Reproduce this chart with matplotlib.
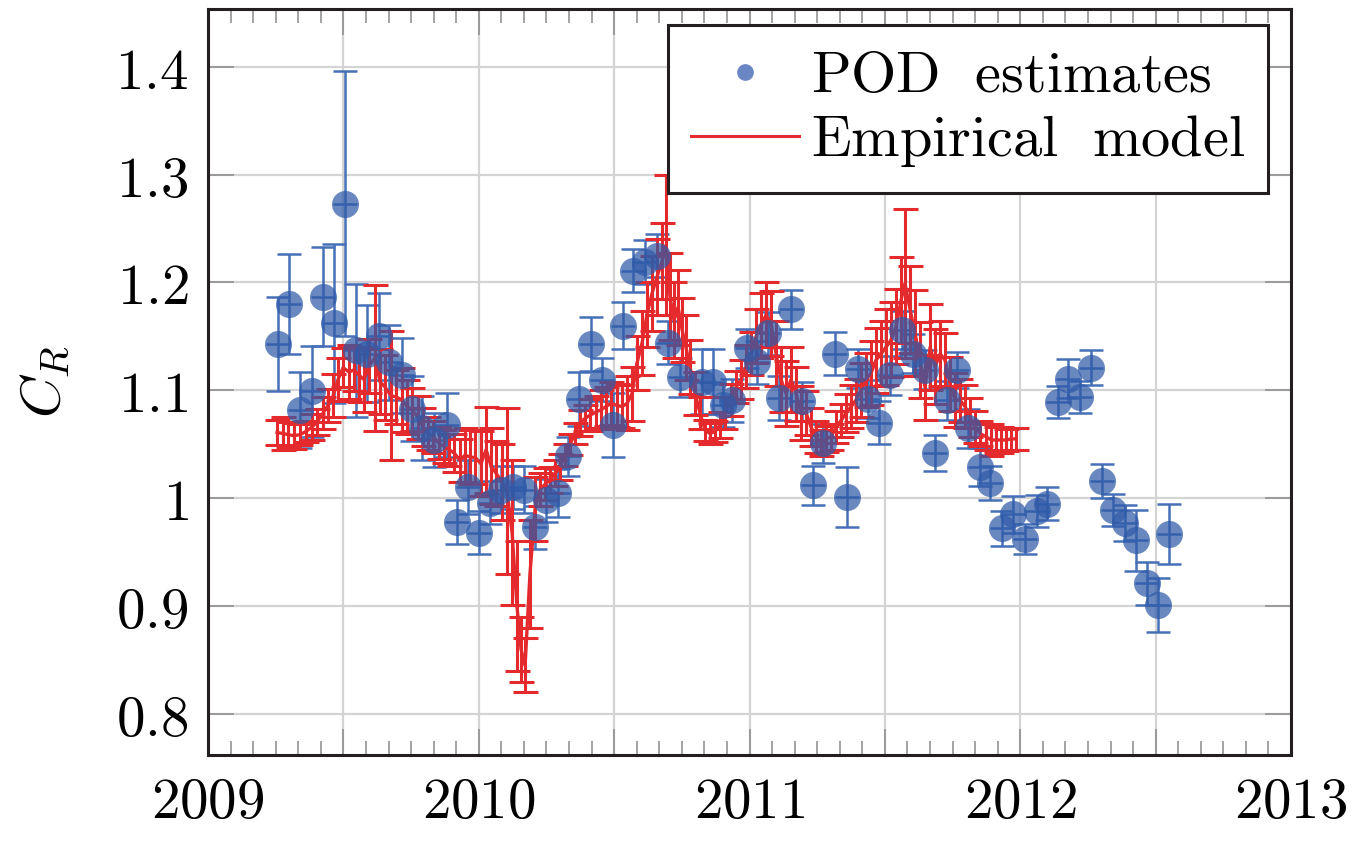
import matplotlib
matplotlib.use("Agg")
import matplotlib.pyplot as plt
from matplotlib.lines import Line2D
from matplotlib.ticker import MultipleLocator, FuncFormatter

# POD estimates (decimal year, C_R, 1-sigma)
pod_t = [2009.259, 2009.299, 2009.340, 2009.384, 2009.425, 2009.465, 2009.506,
         2009.545, 2009.587, 2009.632, 2009.669, 2009.717, 2009.753, 2009.790,
         2009.835, 2009.883, 2009.920, 2009.960, 2010.001, 2010.042, 2010.082,
         2010.126, 2010.167, 2010.208, 2010.248, 2010.293, 2010.330, 2010.370,
         2010.415, 2010.455, 2010.496, 2010.533, 2010.570, 2010.614, 2010.658,
         2010.699, 2010.743, 2010.825, 2010.865, 2010.902, 2010.935, 2010.991,
         2011.028, 2011.068, 2011.109, 2011.153, 2011.194, 2011.235, 2011.271,
         2011.316, 2011.360, 2011.401, 2011.438, 2011.478, 2011.519, 2011.563,
         2011.604, 2011.648, 2011.685, 2011.729, 2011.766, 2011.807, 2011.851,
         2011.888, 2011.933, 2011.973, 2012.018, 2012.062, 2012.099, 2012.139,
         2012.176, 2012.221, 2012.261, 2012.302, 2012.343, 2012.387, 2012.428,
         2012.468, 2012.509, 2012.549]
pod_cr = [1.143, 1.180, 1.082, 1.099, 1.187, 1.162, 1.273,
          1.137, 1.134, 1.150, 1.126, 1.114, 1.083, 1.065,
          1.054, 1.068, 0.978, 1.010, 0.968, 0.996, 1.008,
          1.010, 1.008, 0.973, 0.998, 1.005, 1.039, 1.092,
          1.143, 1.110, 1.068, 1.160, 1.211, 1.219, 1.225,
          1.144, 1.112, 1.108, 1.108, 1.086, 1.091, 1.139,
          1.126, 1.153, 1.093, 1.175, 1.090, 1.012, 1.051,
          1.134, 1.001, 1.120, 1.092, 1.070, 1.114, 1.156,
          1.134, 1.119, 1.042, 1.091, 1.119, 1.065, 1.029,
          1.014, 0.972, 0.985, 0.962, 0.988, 0.995, 1.089,
          1.111, 1.094, 1.121, 1.016, 0.989, 0.977, 0.961,
          0.921, 0.901, 0.967]
pod_err = [0.044, 0.046, 0.035, 0.042, 0.046, 0.074, 0.123,
           0.062, 0.045, 0.040, 0.035, 0.035, 0.030, 0.030,
           0.025, 0.030, 0.020, 0.025, 0.020, 0.020, 0.022,
           0.020, 0.022, 0.020, 0.020, 0.022, 0.018, 0.025,
           0.025, 0.020, 0.030, 0.022, 0.020, 0.020, 0.020,
           0.020, 0.018, 0.030, 0.030, 0.020, 0.020, 0.018,
           0.020, 0.020, 0.020, 0.018, 0.018, 0.018, 0.018,
           0.020, 0.028, 0.018, 0.018, 0.020, 0.018, 0.018,
           0.018, 0.018, 0.017, 0.018, 0.017, 0.018, 0.018,
           0.016, 0.016, 0.017, 0.014, 0.015, 0.015, 0.015,
           0.018, 0.015, 0.016, 0.016, 0.015, 0.017, 0.028,
           0.020, 0.025, 0.028]

# empirical model, weekly
model_t = [2009.255, 2009.277, 2009.295, 2009.318, 2009.340, 2009.362, 2009.384,
           2009.403, 2009.425, 2009.443, 2009.462, 2009.480, 2009.499, 2009.521,
           2009.539, 2009.558, 2009.576, 2009.595, 2009.617, 2009.635, 2009.654,
           2009.676, 2009.694, 2009.717, 2009.735, 2009.753, 2009.776, 2009.794,
           2009.813, 2009.831, 2009.853, 2009.872, 2009.890, 2009.909, 2009.931,
           2009.949, 2009.968, 2009.986, 2010.008, 2010.027, 2010.045, 2010.064,
           2010.086, 2010.104, 2010.123, 2010.141, 2010.156, 2010.171, 2010.189,
           2010.208, 2010.226, 2010.245, 2010.263, 2010.282, 2010.300, 2010.319,
           2010.337, 2010.355, 2010.374, 2010.392, 2010.411, 2010.433, 2010.451,
           2010.470, 2010.488, 2010.511, 2010.529, 2010.548, 2010.566, 2010.584,
           2010.603, 2010.621, 2010.640, 2010.658, 2010.677, 2010.692, 2010.706,
           2010.721, 2010.736, 2010.751, 2010.765, 2010.780, 2010.799, 2010.817,
           2010.836, 2010.854, 2010.873, 2010.891, 2010.910, 2010.932, 2010.950,
           2010.969, 2010.987, 2011.006, 2011.024, 2011.042, 2011.061, 2011.079,
           2011.098, 2011.116, 2011.135, 2011.153, 2011.172, 2011.190, 2011.209,
           2011.227, 2011.246, 2011.264, 2011.283, 2011.301, 2011.319, 2011.338,
           2011.356, 2011.375, 2011.393, 2011.412, 2011.430, 2011.449, 2011.467,
           2011.486, 2011.504, 2011.523, 2011.541, 2011.560, 2011.574, 2011.593,
           2011.611, 2011.630, 2011.648, 2011.667, 2011.685, 2011.704, 2011.722,
           2011.741, 2011.759, 2011.777, 2011.796, 2011.814, 2011.833, 2011.851,
           2011.874, 2011.892, 2011.910, 2011.929, 2011.947, 2011.966, 2011.984]
model_cr = [1.061, 1.060, 1.059, 1.058, 1.059, 1.062, 1.066,
            1.071, 1.079, 1.086, 1.095, 1.110, 1.121, 1.117,
            1.119, 1.114, 1.110, 1.123, 1.130, 1.108, 1.103,
            1.095, 1.094, 1.091, 1.085, 1.082, 1.075, 1.066,
            1.060, 1.057, 1.051, 1.048, 1.045, 1.042, 1.035,
            1.040, 1.038, 1.038, 1.032, 1.045, 1.030, 1.023,
            1.015, 1.007, 0.968, 0.900, 0.860, 0.845, 0.930,
            0.990, 1.008, 1.013, 1.017, 1.023, 1.029, 1.040,
            1.050, 1.060, 1.070, 1.074, 1.077, 1.080, 1.082,
            1.085, 1.088, 1.086, 1.085, 1.088, 1.097, 1.125,
            1.144, 1.170, 1.190, 1.205, 1.220, 1.235, 1.187,
            1.165, 1.177, 1.156, 1.140, 1.122, 1.097, 1.079,
            1.063, 1.060, 1.062, 1.068, 1.079, 1.091, 1.103,
            1.110, 1.122, 1.134, 1.150, 1.160, 1.170, 1.162,
            1.134, 1.110, 1.097, 1.110, 1.097, 1.079, 1.079,
            1.066, 1.057, 1.051, 1.055, 1.057, 1.066, 1.072,
            1.079, 1.085, 1.091, 1.100, 1.110, 1.116, 1.128,
            1.134, 1.140, 1.147, 1.159, 1.184, 1.199, 1.175,
            1.153, 1.128, 1.103, 1.140, 1.122, 1.134, 1.128,
            1.106, 1.091, 1.091, 1.085, 1.075, 1.066, 1.060,
            1.057, 1.054, 1.054, 1.054, 1.054, 1.055, 1.055]
model_err = [0.012, 0.015, 0.012, 0.012, 0.010, 0.010, 0.012,
             0.012, 0.015, 0.015, 0.020, 0.020, 0.018, 0.025,
             0.020, 0.025, 0.030, 0.025, 0.068, 0.030, 0.030,
             0.060, 0.025, 0.030, 0.025, 0.020, 0.020, 0.018,
             0.015, 0.015, 0.015, 0.015, 0.015, 0.018, 0.020,
             0.025, 0.025, 0.025, 0.030, 0.040, 0.035, 0.030,
             0.035, 0.077, 0.067, 0.060, 0.030, 0.025, 0.050,
             0.030, 0.015, 0.015, 0.012, 0.012, 0.012, 0.010,
             0.010, 0.010, 0.012, 0.012, 0.015, 0.015, 0.018,
             0.018, 0.020, 0.020, 0.020, 0.025, 0.025, 0.025,
             0.030, 0.030, 0.035, 0.035, 0.035, 0.065, 0.040,
             0.035, 0.035, 0.030, 0.030, 0.025, 0.020, 0.015,
             0.010, 0.010, 0.010, 0.012, 0.015, 0.015, 0.015,
             0.018, 0.020, 0.020, 0.025, 0.030, 0.030, 0.030,
             0.030, 0.030, 0.030, 0.030, 0.025, 0.025, 0.020,
             0.018, 0.015, 0.012, 0.012, 0.012, 0.015, 0.015,
             0.018, 0.020, 0.020, 0.025, 0.025, 0.030, 0.030,
             0.030, 0.035, 0.035, 0.035, 0.040, 0.069, 0.040,
             0.040, 0.035, 0.030, 0.040, 0.035, 0.030, 0.025,
             0.025, 0.025, 0.020, 0.020, 0.018, 0.015, 0.012,
             0.012, 0.015, 0.012, 0.012, 0.010, 0.010, 0.010]

RED = "#e42a2c"
BLUE = "#2f5aa8"
FS = 41

plt.rcParams["mathtext.fontset"] = "cm"
plt.rcParams["font.family"] = "serif"

fig = plt.figure(figsize=(13.58, 8.51), dpi=100)
ax = fig.add_axes([0.1532, 0.1128, 0.7975, 0.8766])

ax.errorbar(pod_t, pod_cr, yerr=pod_err, fmt="_", ms=17, mew=1.8,
            color="#4570b8", elinewidth=1.8, capsize=8.5, capthick=1.8, zorder=3)
ax.errorbar(model_t, model_cr, yerr=model_err, fmt="-", lw=2.4, color=RED,
            elinewidth=2.2, capsize=9, capthick=2.2, zorder=4)
ax.plot(pod_t, pod_cr, "o", ms=19.5, color=BLUE, alpha=0.72, mec="none", zorder=5)

ax.set_xlim(2009, 2013)
ax.set_ylim(0.762, 1.4535)

ax.xaxis.set_major_locator(MultipleLocator(0.5))
ax.xaxis.set_minor_locator(MultipleLocator(1 / 12))
ax.yaxis.set_major_locator(MultipleLocator(0.1))
ax.xaxis.set_major_formatter(FuncFormatter(
    lambda v, p: f"${int(round(v))}$" if abs(v - round(v)) < 1e-6 else ""))
ax.yaxis.set_major_formatter(FuncFormatter(lambda v, p: f"${round(v, 2):g}$"))

ax.grid(True, which="major", color="#d4d4d4", lw=1.6, zorder=0)
ax.set_axisbelow(True)
ax.tick_params(which="both", direction="in", top=True, right=True,
               color="#8a8a8a", width=1.1, labelsize=FS, pad=14)
ax.tick_params(which="major", length=19)
ax.tick_params(which="minor", length=10)
for s in ax.spines.values():
    s.set_color("#231f20")
    s.set_linewidth(2.2)

ax.set_ylabel(r"$C_R$", fontsize=FS, labelpad=32)

handles = [Line2D([], [], ls="none", marker="o", ms=11, color="#6b86c4"),
           Line2D([], [], color=RED, lw=2.2)]
leg = ax.legend(handles, [r"$\mathrm{POD\ \ estimates}$", r"$\mathrm{Empirical\ \ model}$"],
                loc="upper right", bbox_to_anchor=(0.979, 0.979), borderaxespad=0,
                fontsize=42, fancybox=False, framealpha=1, edgecolor="#231f20",
                handlelength=1.85, handletextpad=0.2, labelspacing=0.14,
                borderpad=0.4)
leg.get_frame().set_linewidth(2.2)

fig.savefig("out.png", dpi=100)
